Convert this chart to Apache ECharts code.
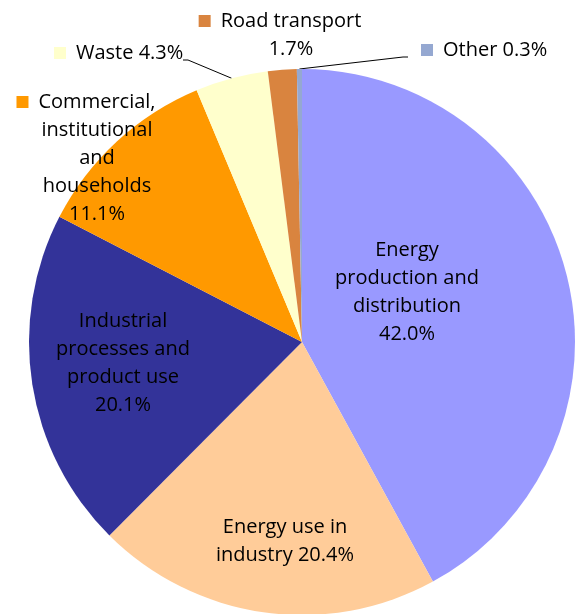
<!DOCTYPE html>
<html>
<head>
<meta charset="utf-8">
<script src="https://cdn.jsdelivr.net/npm/echarts@6/dist/echarts.min.js"></script>
<style>
html,body{margin:0;padding:0;background:#fff;}
#chart{width:575px;height:614px;}
</style>
</head>
<body>
<div id="chart"></div>
<script>
// ---- data ----
const categories = [
  'Energy production and distribution',
  'Energy use in industry',
  'Industrial processes and product use',
  'Commercial, institutional and households',
  'Waste',
  'Road transport',
  'Other'
];
const values = [42.0, 20.4, 20.1, 11.1, 4.3, 1.7, 0.3];
const labelNames = [
  'Energy\nproduction and\ndistribution',
  'Energy use in\nindustry',
  'Industrial\nprocesses and\nproduct use',
  'Commercial,\ninstitutional\nand\nhouseholds',
  'Waste',
  'Road transport',
  'Other'
];
const valueSeparators = ['\n', ' ', '\n', '\n', ' ', '\n', ' '];
const hasKey = [false, false, false, true, true, true, true];

// ---- styles / layout ----
const colors = ['#9999FF', '#FFCC99', '#333399', '#FF9900', '#FFFFCC', '#D9843F', '#95A8D1'];
const CX = 302, CY = 342, R = 273;
const labelPos = [
  {x: 407, y: 292, align: 'center'},
  {x: 285, y: 541, align: 'center'},
  {x: 123, y: 363, align: 'center'},
  {x: 97, y: 158, align: 'center'},
  {x: 54, y: 53, align: 'left'},
  {x: 291, y: 35, align: 'center'},
  {x: 421, y: 50, align: 'left'}
];
const leaders = {
  4: [[188, 60], [183, 60]],
  6: [[403, 57], [408, 57]]
};

const total = values.reduce((a, b) => a + b, 0);
function edgePoint(i) {
  let before = 0;
  for (let k = 0; k < i; k++) before += values[k];
  const mid = (before + values[i] / 2) / total * 2 * Math.PI;
  return [CX + R * Math.sin(mid), CY - R * Math.cos(mid)];
}

const rich = {
  t: {fontFamily: 'Open Sans', fontSize: 20, color: '#000', lineHeight: 28},
  g: {width: 10, height: 12},
  pad: {width: 22, height: 12}
};
colors.forEach((c, i) => {
  rich['sq' + i] = {width: 12, height: 12, backgroundColor: c};
});

function fmt(p) {
  const i = p.dataIndex;
  const txt = labelNames[i] + valueSeparators[i] + values[i].toFixed(1) + '%';
  const lines = txt.split('\n');
  return lines.map((l, k) => {
    if (k === 0 && hasKey[i]) {
      return '{sq' + i + '| }{g| }{t|' + l + '}' + (lines.length > 1 ? '{pad| }' : '');
    }
    return '{t|' + l + '}';
  }).join('\n');
}

const data = categories.map((name, i) => ({
  name: name,
  value: values[i],
  itemStyle: {color: colors[i]},
  label: {position: hasKey[i] ? 'outside' : 'inside'},
  labelLine: {show: !!leaders[i]}
}));

const chart = echarts.init(document.getElementById('chart'), null, {renderer: 'canvas'});
chart.setOption({
  backgroundColor: '#ffffff',
  animation: false,
  series: [{
    type: 'pie',
    center: [CX, CY],
    radius: [0, R],
    startAngle: 90,
    clockwise: true,
    avoidLabelOverlap: false,
    itemStyle: {borderWidth: 0},
    label: {
      show: true,
      formatter: fmt,
      rich: rich
    },
    labelLine: {
      lineStyle: {color: '#000', width: 1}
    },
    emphasis: {disabled: true},
    labelLayout: function (params) {
      const i = params.dataIndex;
      const p = labelPos[i];
      const res = {x: p.x, y: p.y, align: p.align, verticalAlign: 'middle'};
      if (leaders[i]) {
        res.labelLinePoints = [edgePoint(i), leaders[i][0], leaders[i][1]];
      }
      return res;
    },
    data: data
  }]
});
</script>
</body>
</html>
